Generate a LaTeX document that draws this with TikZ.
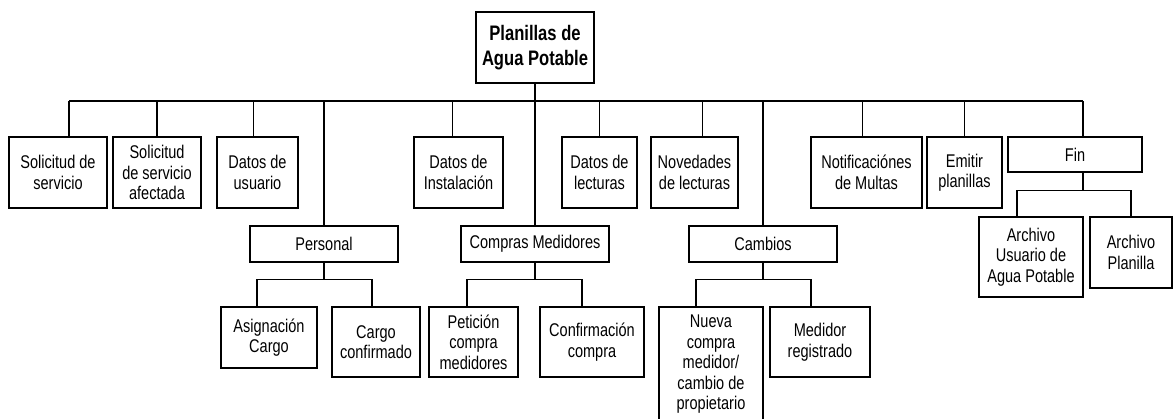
\documentclass[tikz,border=0pt]{standalone}
\usepackage{fontspec}
\setmainfont{Liberation Sans}[FakeStretch=0.79]
\begin{document}
\begin{tikzpicture}[x=1pt,y=-1pt,
  box/.style={draw=black, line width=1.1pt, align=center, inner sep=0pt,
    font=\fontsize{18.4}{20.5}\selectfont},
  rootbox/.style={box, font=\fontsize{21}{25}\selectfont\bfseries},
  conn/.style={draw=black, line width=1.1pt}]
\useasboundingbox (0,0) rectangle (1175,419);
\clip (0,0) rectangle (1175,419);

% root
\node[rootbox, minimum width=118pt, minimum height=71pt] (root) at (535,47.5) {Planillas de\\Agua Potable};

% level 1
\node[box, minimum width=98pt, minimum height=71pt] (n1) at (58,172.5) {Solicitud de\\servicio};
\node[box, minimum width=88pt, minimum height=71pt] (n2) at (157,172.5) {Solicitud\\de servicio\\afectada};
\node[box, minimum width=81pt, minimum height=71pt] (n3) at (257.5,172.5) {Datos de\\usuario};
\node[box, minimum width=89pt, minimum height=71pt] (n5) at (458.5,172.5) {Datos de\\Instalación};
\node[box, minimum width=75pt, minimum height=71pt] (n6) at (599.5,172.5) {Datos de\\lecturas};
\node[box, minimum width=87pt, minimum height=71pt] (n7) at (694.5,172.5) {Novedades\\de lecturas};
\node[box, minimum width=111pt, minimum height=71pt] (n9) at (866.5,172.5) {Notificaciónes\\de Multas};
\node[box, minimum width=75pt, minimum height=71pt] (n10) at (964.5,172.5) {Emitir\\planillas};
\node[box, minimum width=134pt, minimum height=35pt] (fin) at (1075,154.5) {Fin};

% level 2
\node[box, minimum width=148pt, minimum height=36pt] (personal) at (324,244) {Personal};
\node[box, minimum width=148pt, minimum height=36pt] (compras) at (535,244) {Compras Medidores};
\node[box, minimum width=148pt, minimum height=36pt] (cambios) at (763,244) {Cambios};

% level 3
\node[box, minimum width=96pt, minimum height=61pt] (asig) at (269,337.5) {Asignación\\Cargo};
\node[box, minimum width=88pt, minimum height=70pt] (cargo) at (376,342) {Cargo\\confirmado};
\node[box, minimum width=89pt, minimum height=70pt] (peticion) at (473.5,342) {Petición\\compra\\medidores};
\node[box, minimum width=104pt, minimum height=70pt] (confirm) at (592,342) {Confirmación\\compra};
\node[box, minimum width=104pt, minimum height=115pt] (nueva) at (711,364.5) {Nueva\\compra\\medidor/\\cambio de\\propietario};
\node[box, minimum width=100pt, minimum height=70pt] (medidor) at (820,342) {Medidor\\registrado};

% Fin children
\node[box, minimum width=104pt, minimum height=80pt] (archU) at (1031,257) {Archivo\\Usuario de\\Agua Potable};
\node[box, minimum width=82pt, minimum height=71pt] (archP) at (1131,252.5) {Archivo\\Planilla};

% main bus
\coordinate (busL) at ([xshift=11pt]n1.north |- 0,101);
\coordinate (busR) at ([xshift=8pt]fin.north |- 0,101);
\draw[conn] (busL) -- (busR);
\draw[conn] (root.south) -- (compras.north);
\draw[conn] ([xshift=11pt]n1.north) -- (busL);
\draw[conn] (n2.north) -- (n2.north |- busL);
\draw[conn] ([xshift=-4pt]n3.north) -- ([xshift=-4pt]n3.north |- busL);
\draw[conn] (personal.north) -- (personal.north |- busL);
\draw[conn] ([xshift=-6pt]n5.north) -- ([xshift=-6pt]n5.north |- busL);
\draw[conn] (n6.north) -- (n6.north |- busL);
\draw[conn] ([xshift=8pt]n7.north) -- ([xshift=8pt]n7.north |- busL);
\draw[conn] (cambios.north) -- (cambios.north |- busL);
\draw[conn] ([xshift=-4pt]n9.north) -- ([xshift=-4pt]n9.north |- busL);
\draw[conn] (n10.north) -- (n10.north |- busL);
\draw[conn] ([xshift=8pt]fin.north) -- (busR);

% Personal
\draw[conn] ([xshift=-12pt]asig.north) -- ++(0,-27) coordinate (pbus) -| ([xshift=-4pt]cargo.north);
\draw[conn] (personal.south) -- (personal.south |- pbus);
% Compras
\draw[conn] ([xshift=-6.5pt]peticion.north) -- ++(0,-27) coordinate (cbus) -| ([xshift=-10pt]confirm.north);
\draw[conn] (compras.south) -- (compras.south |- cbus);
% Cambios
\draw[conn] ([xshift=-15pt]nueva.north) -- ++(0,-27) coordinate (kbus) -| ([xshift=-9pt]medidor.north);
\draw[conn] (cambios.south) -- (cambios.south |- kbus);
% Fin
\draw[conn] ([xshift=-14pt]archU.north) -- ++(0,-26) coordinate (fbus) -| (archP.north);
\draw[conn] ([xshift=8pt]fin.south) -- ([xshift=8pt]fin.south |- fbus);
\end{tikzpicture}
\end{document}
